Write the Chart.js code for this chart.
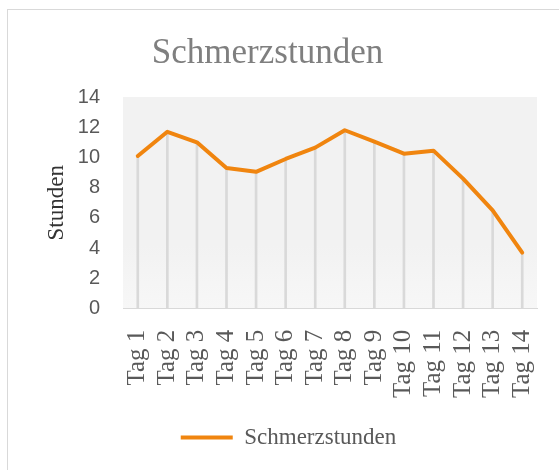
<!DOCTYPE html>
<html>
<head>
<meta charset="utf-8">
<script src="https://cdn.jsdelivr.net/npm/chart.js@4"></script>
<style>
    body { margin: 0; background: #fff; }
    #frame { position: absolute; left: 7px; top: 9px; width: 600px; height: 500px; border: 1px solid #d9d9d9; }
    #wrap { position: absolute; left: 0; top: 0; width: 559px; height: 470px; }
</style>
</head>
<body>
<div id="frame"></div>
<div id="wrap"><canvas id="chart"></canvas></div>
<script>
// data
const days = ["Tag 1", "Tag 2", "Tag 3", "Tag 4", "Tag 5", "Tag 6", "Tag 7",
    "Tag 8", "Tag 9", "Tag 10", "Tag 11", "Tag 12", "Tag 13", "Tag 14"];
const painHours = [10.1, 11.7, 11.0, 9.3, 9.05, 9.9, 10.65, 11.8, 11.05, 10.25, 10.45, 8.6, 6.5, 3.7];
const yTicks = [0, 2, 4, 6, 8, 10, 12, 14];

const orange = '#f0850f';
const serif = "'Liberation Serif', 'Times New Roman', serif";
const sans = "'Liberation Sans', Arial, sans-serif";

// light grey gradient behind the plot area
const plotBackground = {
    id: 'plotBackground',
    beforeDraw(chart) {
        const { ctx, chartArea: a } = chart;
        const g = ctx.createLinearGradient(0, a.top, 0, a.bottom);
        g.addColorStop(0, '#f2f2f2');
        g.addColorStop(0.7, '#f2f2f2');
        g.addColorStop(1, '#f7f7f7');
        ctx.save();
        ctx.fillStyle = g;
        ctx.fillRect(a.left, a.top, a.right - a.left, a.bottom - a.top);
        ctx.restore();
    }
};

// title and legend are not centred on the same spot in the original
const nudge = {
    id: 'nudge',
    afterLayout(chart) {
        chart.titleBlock.left -= 11;
        chart.titleBlock.right -= 11;
        chart.legend.left += 10;
        chart.legend.right += 10;
    }
};

new Chart(document.getElementById('chart'), {
    type: 'line',
    data: {
        labels: days,
        datasets: [
            {
                label: 'Schmerzstunden',
                data: painHours,
                borderColor: orange,
                backgroundColor: orange,
                borderWidth: 4,
                borderCapStyle: 'round',
                borderJoinStyle: 'round',
                pointRadius: 0,
                tension: 0
            },
            {
                // drop lines from each point down to the axis
                type: 'bar',
                label: 'drop',
                data: painHours,
                backgroundColor: '#d9d9d9',
                barThickness: 2
            }
        ]
    },
    options: {
        responsive: true,
        maintainAspectRatio: false,
        animation: false,
        layout: { padding: { top: 10, left: 20, right: 22, bottom: 11 } },
        plugins: {
            title: {
                display: true,
                text: 'Schmerzstunden',
                color: '#7f7f7f',
                font: { family: serif, size: 35, weight: 'normal' },
                padding: { top: 23, bottom: 22 }
            },
            legend: {
                position: 'bottom',
                labels: {
                    usePointStyle: true,
                    pointStyle: 'line',
                    pointStyleWidth: 52,
                    padding: 15,
                    color: '#595959',
                    font: { family: serif, size: 23 },
                    filter: item => item.datasetIndex === 0
                }
            },
            tooltip: { enabled: false }
        },
        scales: {
            x: {
                offset: true,
                afterFit: axis => { axis.paddingLeft = 0; axis.paddingRight = 0; },
                grid: { display: false },
                border: { display: true, color: '#d9d9d9', width: 1 },
                ticks: {
                    autoSkip: false,
                    minRotation: 90,
                    maxRotation: 90,
                    padding: 13,
                    color: '#595959',
                    font: { family: serif, size: 25 }
                }
            },
            y: {
                min: 0,
                max: 14,
                afterBuildTicks: axis => { axis.ticks = yTicks.map(v => ({ value: v })); },
                afterFit: axis => { axis.width = 103; },
                grid: { display: false, drawTicks: false },
                border: { display: false },
                ticks: {
                    padding: 23,
                    color: '#595959',
                    font: { family: sans, size: 20 }
                },
                title: {
                    display: true,
                    text: 'Stunden',
                    color: '#333333',
                    font: { family: serif, size: 23 },
                    padding: { top: 23, bottom: 6 }
                }
            }
        }
    },
    plugins: [plotBackground, nudge]
});
</script>
</body>
</html>
